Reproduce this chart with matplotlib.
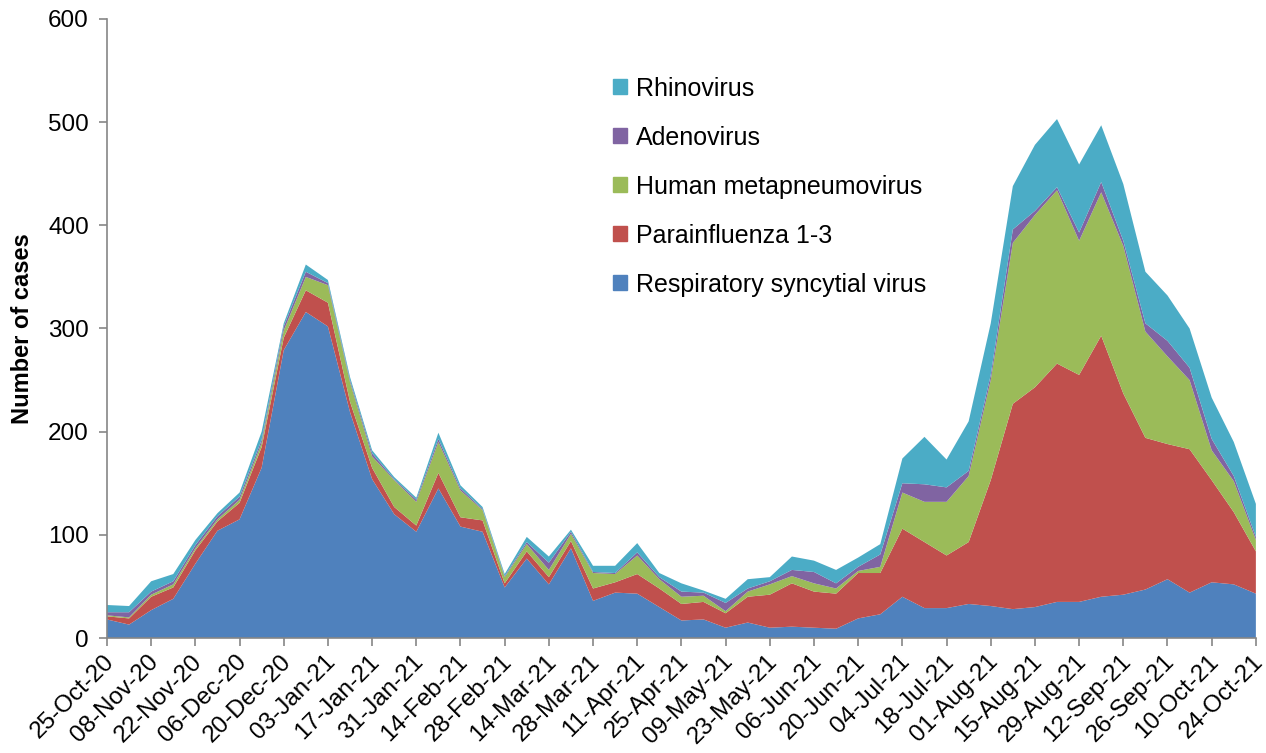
import matplotlib
matplotlib.use('Agg')
import matplotlib.pyplot as plt
import matplotlib.patches as mpatches
import matplotlib.transforms as mtransforms
import numpy as np

plt.rcParams['font.family'] = ['Liberation Sans', 'DejaVu Sans']

# weekly dates, every second one is labelled
week_labels = ['25-Oct-20', '08-Nov-20', '22-Nov-20', '06-Dec-20', '20-Dec-20',
               '03-Jan-21', '17-Jan-21', '31-Jan-21', '14-Feb-21', '28-Feb-21',
               '14-Mar-21', '28-Mar-21', '11-Apr-21', '25-Apr-21', '09-May-21',
               '23-May-21', '06-Jun-21', '20-Jun-21', '04-Jul-21', '18-Jul-21',
               '01-Aug-21', '15-Aug-21', '29-Aug-21', '12-Sep-21', '26-Sep-21',
               '10-Oct-21', '24-Oct-21']

rsv = [18, 13, 27, 38, 72, 104, 115, 165, 279, 316, 302, 219, 154, 120, 103, 145,
       108, 103, 49, 77, 52, 87, 36, 44, 43, 30, 17, 18, 10, 15, 10, 11, 10, 9,
       19, 23, 40, 29, 29, 33, 31, 28, 30, 35, 35, 40, 42, 47, 57, 44, 54, 52, 43]
para = [3, 6, 13, 11, 13, 9, 16, 20, 12, 21, 23, 10, 11, 7, 6, 15,
        9, 11, 4, 7, 7, 7, 12, 10, 19, 18, 16, 17, 14, 25, 32, 42, 35, 34,
        44, 40, 66, 64, 51, 60, 122, 199, 213, 231, 220, 253, 195, 147, 131, 139, 99, 70, 41]
hmpv = [1, 1, 2, 3, 2, 2, 3, 4, 7, 13, 17, 19, 11, 26, 23, 30,
        26, 10, 6, 7, 7, 7, 15, 8, 18, 9, 7, 6, 2, 5, 10, 7, 8, 5,
        2, 6, 35, 39, 52, 64, 97, 156, 167, 168, 130, 139, 143, 103, 85, 67, 29, 30, 11]
adeno = [3, 5, 3, 3, 3, 3, 3, 3, 4, 5, 2, 2, 3, 1, 2, 3,
         2, 1, 1, 2, 7, 2, 1, 1, 3, 2, 5, 3, 8, 3, 3, 6, 11, 5,
         4, 12, 9, 17, 14, 5, 5, 13, 4, 3, 8, 10, 5, 8, 15, 12, 11, 5, 3]
rhino = [7, 6, 10, 7, 5, 3, 4, 8, 3, 7, 3, 3, 3, 2, 2, 6,
         3, 2, 2, 5, 6, 2, 6, 7, 9, 4, 8, 2, 4, 9, 4, 13, 11, 13,
         9, 10, 24, 46, 27, 48, 50, 42, 64, 66, 66, 55, 55, 50, 44, 38, 40, 33, 32]

names = ['Respiratory syncytial virus', 'Parainfluenza 1-3', 'Human metapneumovirus',
         'Adenovirus', 'Rhinovirus']
colors = ['#4F81BD', '#C0504D', '#9BBB59', '#8064A2', '#4BACC6']

weeks = np.arange(len(rsv))

fig = plt.figure(figsize=(12.66, 7.53), dpi=100)
ax = fig.add_axes([0.0845, 0.1527, 0.9075, 0.8221])

ax.stackplot(weeks, rsv, para, hmpv, adeno, rhino, colors=colors, linewidth=0)

ax.set_xlim(0, len(rsv) - 1)
ax.set_ylim(0, 600)
ax.set_yticks(range(0, 601, 100))
ax.set_xticks(weeks[::2])
ax.set_xticklabels(week_labels, rotation=45, ha='right', rotation_mode='anchor')

for s in ['top', 'right']:
    ax.spines[s].set_visible(False)
for s in ['left', 'bottom']:
    ax.spines[s].set_color('#868686')
    ax.spines[s].set_linewidth(1.2)
ax.tick_params(axis='both', colors='#868686', labelcolor='black', labelsize=17.5,
               length=6, width=1.2)
ax.tick_params(axis='x', pad=3)
ax.tick_params(axis='y', pad=7)
ax.set_ylabel('Number of cases', fontsize=17, fontweight='bold', labelpad=10)

# nudge the date labels a little to the left so the last one stays inside
shift = mtransforms.ScaledTranslation(-4 / 100, 0, fig.dpi_scale_trans)
for lab in ax.get_xticklabels():
    lab.set_transform(lab.get_transform() + shift)

handles = [mpatches.Patch(color=c, label=n) for c, n in zip(colors, names)]
leg = ax.legend(handles=handles[::-1], loc='upper left', bbox_to_anchor=(0.421, 0.943),
                frameon=False, fontsize=18, handlelength=0.55, handleheight=0.55,
                handletextpad=0.36, labelspacing=1.0)

fig.savefig('out.png', dpi=100)
